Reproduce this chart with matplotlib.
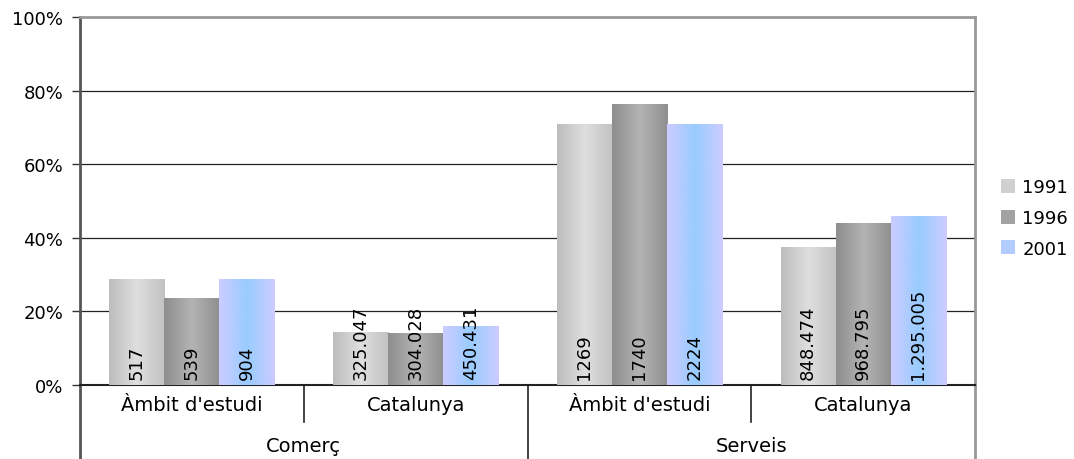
import matplotlib
matplotlib.use("Agg")
import matplotlib.pyplot as plt
import numpy as np
from matplotlib.colors import LinearSegmentedColormap
from matplotlib.patches import Patch
from matplotlib.transforms import blended_transform_factory

# data
groups = ["Comerç", "Serveis"]
categories = ["Àmbit d'estudi", "Catalunya", "Àmbit d'estudi", "Catalunya"]
years = ["1991", "1996", "2001"]
pct_1991 = [28.8, 14.4, 70.9, 37.5]
pct_1996 = [23.6, 13.9, 76.1, 43.8]
pct_2001 = [28.8, 16.0, 70.9, 45.9]
lab_1991 = ["517", "325.047", "1269", "848.474"]
lab_1996 = ["539", "304.028", "1740", "968.795"]
lab_2001 = ["904", "450.431", "2224", "1.295.005"]

values = [pct_1991, pct_1996, pct_2001]
labels = [lab_1991, lab_1996, lab_2001]

# horizontal gradients for each series (edge, middle, edge)
grad_colors = [
    ["#bdbdbd", "#dfdfdf", "#c2c2c2"],
    ["#8e8e8e", "#b4b4b4", "#8f8f8f"],
    ["#ccccff", "#99ccff", "#ccccff"],
]
legend_colors = ["#d0d0d0", "#a2a2a2", "#b3ccff"]

fig = plt.figure(figsize=(10.74, 4.6), dpi=100)
ax = fig.add_axes([80 / 1074, 74 / 460, 895 / 1074, 368 / 460])

fs = 13
fs_cat = 14
width = 0.246
x = np.arange(len(categories))
grad = np.linspace(0, 1, 64).reshape(1, -1)

for s in range(3):
    cmap = LinearSegmentedColormap.from_list("g%d" % s, grad_colors[s])
    pos = x + (s - 1) * width
    bars = ax.bar(pos, values[s], width=width, color="none", edgecolor="none", zorder=3)
    for b, lab in zip(bars, labels[s]):
        x0 = b.get_x()
        h = b.get_height()
        ax.imshow(grad, cmap=cmap, extent=[x0, x0 + width, 0, h],
                  aspect="auto", zorder=3, interpolation="bicubic")
        ax.text(x0 + width / 2, 1.6, lab, rotation=90, ha="center", va="bottom",
                fontsize=fs, zorder=4)

ax.set_xlim(-0.5, 3.5)
ax.set_ylim(0, 100)
ax.set_yticks(range(0, 101, 20))
ax.set_yticklabels(["%d%%" % v for v in range(0, 101, 20)], fontsize=fs)
ax.yaxis.grid(True, color="#222222", linewidth=0.9)
ax.set_axisbelow(True)
ax.tick_params(axis="y", length=6, width=1, color="#333333", pad=6)

ax.set_xticks(x)
ax.set_xticklabels(categories, fontsize=fs_cat)
ax.tick_params(axis="x", length=0, pad=7)

for side in ["top", "right"]:
    ax.spines[side].set_color("#999999")
    ax.spines[side].set_linewidth(2)
ax.spines["left"].set_color("#555555")
ax.spines["left"].set_linewidth(2)
ax.spines["bottom"].set_color("#222222")
ax.spines["bottom"].set_linewidth(1.5)

# two level category axis
tr = blended_transform_factory(ax.transData, ax.transAxes)
ax.plot([-0.5, -0.5], [0, -0.21], transform=tr, color="#555555", lw=2, clip_on=False)
ax.plot([1.5, 1.5], [0, -0.21], transform=tr, color="#222222", lw=1.2, clip_on=False)
ax.plot([3.5, 3.5], [0, -0.21], transform=tr, color="#999999", lw=2, clip_on=False)
for xv in [0.5, 2.5]:
    ax.plot([xv, xv], [0, -0.1], transform=tr, color="#222222", lw=1.2, clip_on=False)
for i, g in enumerate(groups):
    ax.text(0.5 + 2 * i, -0.165, g, transform=tr, ha="center", va="center", fontsize=fs_cat)

handles = [Patch(facecolor=c, edgecolor="none") for c in legend_colors]
fig.legend(handles, years, loc="center left", bbox_to_anchor=(988 / 1074, 1 - 219 / 460),
           frameon=False, fontsize=fs, handlelength=0.8, handleheight=0.8,
           handletextpad=0.4, labelspacing=0.7, borderpad=0.2)

fig.savefig("out.png", dpi=100)
